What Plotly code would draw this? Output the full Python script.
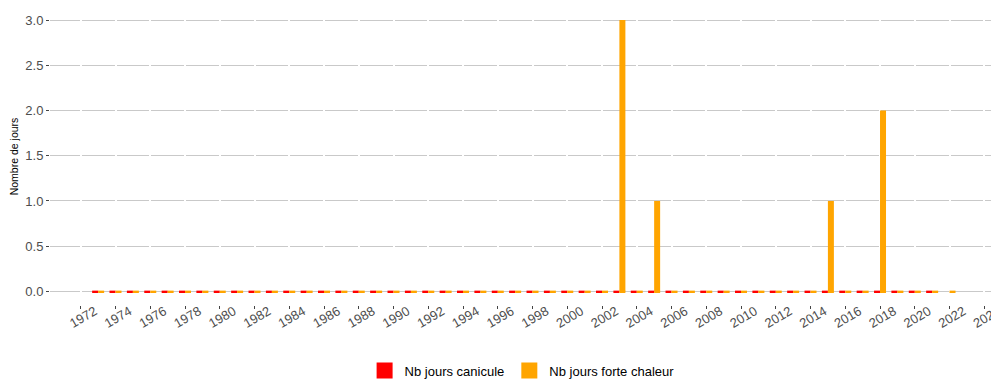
import plotly.graph_objects as go

years = [1973, 1974, 1975, 1976, 1977, 1978, 1979, 1980, 1981, 1982,
         1983, 1984, 1985, 1986, 1987, 1988, 1989, 1990, 1991, 1992,
         1993, 1994, 1995, 1996, 1997, 1998, 1999, 2000, 2001, 2002,
         2003, 2004, 2005, 2006, 2007, 2008, 2009, 2010, 2011, 2012,
         2013, 2014, 2015, 2016, 2017, 2018, 2019, 2020, 2021, 2022]

nb_canicule = [0, 0, 0, 0, 0, 0, 0, 0, 0, 0,
               0, 0, 0, 0, 0, 0, 0, 0, 0, 0,
               0, 0, 0, 0, 0, 0, 0, 0, 0, 0,
               0, 0, 0, 0, 0, 0, 0, 0, 0, 0,
               0, 0, 0, 0, 0, 0, 0, 0, 0, None]

nb_forte_chaleur = [0, 0, 0, 0, 0, 0, 0, 0, 0, 0,
                    0, 0, 0, 0, 0, 0, 0, 0, 0, 0,
                    0, 0, 0, 0, 0, 0, 0, 0, 0, 0,
                    3, 0, 1, 0, 0, 0, 0, 0, 0, 0,
                    0, 0, 1, 0, 0, 2, 0, 0, 0, 0]

x_tick_years = [1972, 1974, 1976, 1978, 1980, 1982, 1984, 1986, 1988, 1990,
                1992, 1994, 1996, 1998, 2000, 2002, 2004, 2006, 2008, 2010,
                2012, 2014, 2016, 2018, 2020, 2022, 2024]
x_tick_labels = [str(y) for y in x_tick_years]
y_tick_values = [0, 0.5, 1.0, 1.5, 2.0, 2.5, 3.0]
y_tick_labels = ["0.0", "0.5", "1.0", "1.5", "2.0", "2.5", "3.0"]

RED = "#FF0000"
ORANGE = "#FFA500"
GRID = "#C9C9C9"
TXT = "#4D4D4D"
FONT = "Liberation Sans"
STROKE = 0.018  # thickness of the bar outline (style)

# the page adds an 8px body margin, so the figure is sized to fit the window
W, H = 991, 372
ML, MR, MT, MB = 42, 1, 0, 75
X_RANGE = [1970.23, 2024.79]
Y_RANGE = [-0.15, 3.133]
plot_w = W - ML - MR

# dash pattern for horizontal grid lines: small breaks at every x tick
def grid_dash():
    segs = []
    pos = 0
    for yr in x_tick_years:
        px = (yr - X_RANGE[0]) / (X_RANGE[1] - X_RANGE[0]) * plot_w
        g0 = int(round(px - 1))
        if g0 <= pos:
            continue
        segs.append(g0 - pos)
        segs.append(2)
        pos = g0 + 2
    segs.append(max(plot_w - pos + 20, 1))
    segs.append(1)
    return ",".join(f"{s}px" for s in segs)

fig = go.Figure()

series = [("Nb jours canicule", nb_canicule, RED, "c"),
          ("Nb jours forte chaleur", nb_forte_chaleur, ORANGE, "h")]

for name, vals, col, grp in series:
    fig.add_trace(go.Bar(x=years, y=vals, name=name, offsetgroup=grp,
                         marker=dict(color=col, line=dict(width=0)),
                         showlegend=False))
    # outline stroke (ggplot draws bar borders, visible even at 0)
    xs = [x for x, v in zip(years, vals) if v is not None]
    fig.add_trace(go.Bar(x=xs, y=[STROKE] * len(xs), base=-STROKE / 2,
                         offsetgroup=grp, marker=dict(color=col, line=dict(width=0)),
                         showlegend=False, hoverinfo="skip"))

for name, vals, col, grp in series:
    fig.add_trace(go.Scatter(x=[None], y=[None], mode="markers", name=name,
                             marker=dict(symbol="square", size=16, color=col)))

fig.update_layout(
    width=W, height=H,
    margin=dict(l=ML, r=MR, t=MT, b=MB, autoexpand=False),
    paper_bgcolor="white", plot_bgcolor="white",
    font=dict(family=FONT, color=TXT),
    barmode="group", bargap=0.31, bargroupgap=0,
    legend=dict(orientation="h", x=0.498, xanchor="center", y=-0.221, yanchor="middle",
                font=dict(size=13, color="#000000"), itemsizing="trace"),
    xaxis=dict(range=X_RANGE, tickvals=x_tick_years, ticktext=x_tick_labels,
               tickangle=-30, ticks="outside", ticklen=3, tickcolor="#444444", tickwidth=1,
               tickfont=dict(size=13, color=TXT), showgrid=False, zeroline=False,
               showline=False, ticklabelshift=14, ticklabelstandoff=-10,
               automargin=False, ticklabeloverflow="allow"),
    yaxis=dict(range=Y_RANGE, tickvals=y_tick_values, ticktext=y_tick_labels,
               ticks="outside", ticklen=3, tickcolor="#444444", tickwidth=1,
               tickfont=dict(size=13, color=TXT), showgrid=True, gridcolor=GRID,
               gridwidth=1.3, griddash=grid_dash(), zeroline=False, showline=False,
               automargin=False,
               title=dict(text="Nombre de jours", font=dict(size=10.5, color="#000000"),
                          standoff=6)),
)

fig.write_html("out.html")
